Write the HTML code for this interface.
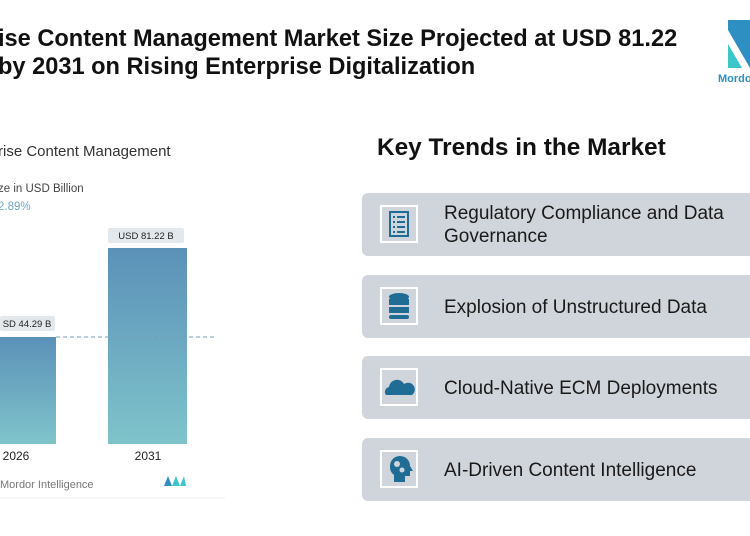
<!DOCTYPE html>
<html><head><style>
body{margin:0;width:750px;height:536px;background:#fff;overflow:hidden;position:relative;font-family:"Liberation Sans",sans-serif;color:#111}
.a{position:absolute;white-space:nowrap}
.card{position:absolute;left:362px;width:400px;height:63px;background:#d0d5db;border-radius:6px}
.ic{position:absolute;left:18px;top:12px;width:34px;height:34px;border:2px solid #fff;background:#d0d5db}
.ct{position:absolute;left:82px;font-size:19px;color:#1a1a1a;line-height:23px}
</style></head><body>
<div class="a" style="left:-2px;top:25px;font-size:23.6px;font-weight:bold;line-height:28px">ise Content Management Market Size Projected at USD 81.22<br>by 2031 on Rising Enterprise Digitalization</div>
<svg class="a" style="left:716px;top:18px" width="34" height="70"><rect x="12" y="2" width="22" height="48" fill="#2e8fc2"/><polygon points="12,12 34,50 12,50" fill="#fff"/><polygon points="12,26 26,50 12,50" fill="#3cc6c8"/><text x="2" y="64" font-size="11" font-weight="bold" fill="#2e8fc2" font-family="Liberation Sans">Mordor</text></svg>
<div class="a" style="left:-2px;top:143px;font-size:15px;color:#333">rise Content Management</div>
<div class="a" style="left:-2px;top:183px;font-size:11.5px;color:#444">ze in USD Billion</div>
<div class="a" style="left:-2px;top:201px;font-size:11.5px;color:#6fa8c8">2.89%</div>
<svg class="a" style="left:0;top:220px" width="230" height="280">
<defs><linearGradient id="g" x1="0" y1="0" x2="0" y2="1"><stop offset="0" stop-color="#5b91b8"/><stop offset="1" stop-color="#7fc4cb"/></linearGradient></defs>
<rect x="0" y="117" width="56" height="107" fill="url(#g)"/>
<rect x="108" y="28" width="79" height="196" fill="url(#g)"/>
<line x1="56" y1="117" x2="216" y2="117" stroke="#6fa0b8" stroke-dasharray="4,3"/>
<rect x="0" y="96" width="55" height="15" rx="2" fill="#e3e8ec"/>
<text x="27" y="107" font-size="9.5" text-anchor="middle" fill="#222">SD 44.29 B</text>
<rect x="108" y="8" width="76" height="15" rx="2" fill="#e3e8ec"/>
<text x="146" y="19" font-size="9.5" text-anchor="middle" fill="#222">USD 81.22 B</text>
<text x="16" y="240" font-size="12" text-anchor="middle" fill="#222">2026</text>
<text x="148" y="240" font-size="12" text-anchor="middle" fill="#222">2031</text>
<text x="0" y="268" font-size="11" fill="#777">Mordor Intelligence</text>
<polygon points="164,266 168,256 172,266" fill="#2e8fc2"/><polygon points="172,266 176,256 180,266 184,256 186,266" fill="#3cc6c8"/>
<line x1="0" y1="278" x2="225" y2="278" stroke="#eee"/>
</svg>
<div class="a" style="left:377px;top:134px;font-size:24.4px;font-weight:bold">Key Trends in the Market</div>
<div class="card" style="top:193px"><div class="ic"><svg width="34" height="34"><rect x="7" y="4" width="20" height="26" fill="#1f6c95"/><rect x="9" y="6" width="16" height="22" fill="#d0d5db"/><g stroke="#1f6c95" stroke-width="2"><line x1="15" y1="10" x2="23" y2="10"/><line x1="15" y1="15" x2="23" y2="15"/><line x1="15" y1="20" x2="23" y2="20"/><line x1="15" y1="25" x2="23" y2="25"/><line x1="11" y1="10" x2="13" y2="10"/><line x1="11" y1="15" x2="13" y2="15"/><line x1="11" y1="20" x2="13" y2="20"/><line x1="11" y1="25" x2="13" y2="25"/></g></svg></div><div class="ct" style="top:9px">Regulatory Compliance and Data<br>Governance</div></div>
<div class="card" style="top:275px"><div class="ic"><svg width="34" height="34"><ellipse cx="17" cy="8" rx="10" ry="4" fill="#1f6c95"/><rect x="7" y="10" width="20" height="6" fill="#1f6c95"/><rect x="7" y="18" width="20" height="6" fill="#1f6c95"/><rect x="7" y="26" width="20" height="4" rx="2" fill="#1f6c95"/></svg></div><div class="ct" style="top:21px">Explosion of Unstructured Data</div></div>
<div class="card" style="top:356px"><div class="ic"><svg width="34" height="34"><path d="M4 25 a5 5 0 0 1 3 -8 a8 8 0 0 1 15 -3 a6 6 0 0 1 8 11 z" fill="#1f6c95"/></svg></div><div class="ct" style="top:21px">Cloud-Native ECM Deployments</div></div>
<div class="card" style="top:438px"><div class="ic"><svg width="34" height="34"><path d="M8 14 a10 10 0 0 1 20 0 l3 5 h-3 v5 h-5 v6 h-11 v-7 a10 10 0 0 1 -4 -9z" fill="#1f6c95"/><circle cx="15" cy="12" r="3" fill="#d0d5db"/><circle cx="20" cy="18" r="2.5" fill="#d0d5db"/></svg></div><div class="ct" style="top:21px">AI-Driven Content Intelligence</div></div>
</body></html>
